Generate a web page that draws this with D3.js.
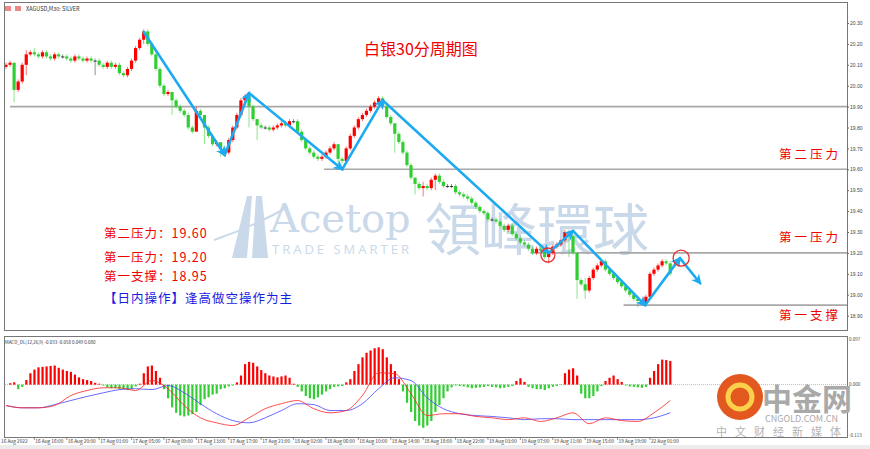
<!DOCTYPE html>
<html><head><meta charset="utf-8">
<script src="https://cdn.jsdelivr.net/npm/d3@7"></script>
<style>body{margin:0;background:#fff}svg{display:block;font-family:"Noto Sans CJK SC","DejaVu Sans",sans-serif}</style>
</head><body><div id="viz"></div>
<script>
(function silverChart() {
  const W = 870, H = 449;

  // closes per 30-min bar (open = previous close)
  const closes = [
    20.10, 20.11, 19.98, 20.02, 20.10, 20.15, 20.16, 20.15, 20.14, 20.16,
    20.14, 20.13, 20.15, 20.14, 20.14, 20.13, 20.12, 20.14, 20.13, 20.12,
    20.13, 20.12, 20.12, 20.10, 20.09, 20.11, 20.09, 20.10, 20.06, 20.05,
    20.08, 20.12, 20.18, 20.22, 20.26, 20.20, 20.15, 20.08, 20.00, 19.96,
    19.97, 19.93, 19.90, 19.88, 19.86, 19.80, 19.78, 19.88, 19.86, 19.80,
    19.76, 19.72, 19.73, 19.70, 19.68, 19.74, 19.80, 19.86, 19.93, 19.95,
    19.90, 19.84, 19.81, 19.80, 19.80, 19.79, 19.80, 19.81, 19.82, 19.81,
    19.83, 19.83, 19.78, 19.74, 19.70, 19.68, 19.66, 19.65, 19.66, 19.68,
    19.70, 19.72, 19.65, 19.64, 19.70, 19.76, 19.80, 19.84, 19.86, 19.88,
    19.90, 19.92, 19.94, 19.90, 19.85, 19.82, 19.77, 19.73, 19.68, 19.62,
    19.56, 19.53, 19.51, 19.52, 19.51, 19.55, 19.57, 19.54, 19.52, 19.52,
    19.52, 19.49, 19.48, 19.47, 19.46, 19.44, 19.42, 19.40, 19.39, 19.36,
    19.36, 19.35, 19.33, 19.31, 19.33, 19.29, 19.27, 19.25, 19.24, 19.22,
    19.20, 19.22, 19.21, 19.18, 19.20, 19.23, 19.24, 19.26, 19.30, 19.28,
    19.20, 19.07, 19.05, 19.02, 19.08, 19.12, 19.14, 19.16, 19.12, 19.10,
    19.08, 19.06, 19.04, 19.02, 19.00, 18.98, 18.97, 18.96, 18.99, 19.10,
    19.12, 19.14, 19.16, 19.15, 19.10
  ];
  const firstOpen = 20.09;
  // notable long wicks: [bar, high, low]
  const wicks = [
    [2, 20.11, 19.92], [5, 20.17, 20.05], [7, 20.18, 20.14], [22, 20.13, 20.05],
    [34, 20.27, 20.20], [41, 19.96, 19.86], [47, 19.90, 19.78], [49, 19.86, 19.72],
    [53, 19.72, 19.66], [60, 19.93, 19.80], [62, 19.84, 19.74], [82, 19.72, 19.61],
    [96, 19.82, 19.68], [101, 19.56, 19.48], [103, 19.54, 19.47], [106, 19.58, 19.50],
    [134, 19.21, 19.15], [139, 19.31, 19.18], [141, 19.20, 18.98], [143, 19.08, 18.98],
    [156, 18.99, 18.94], [158, 19.00, 18.95]
  ];
  const hist = [
    0, 0.003, 0.005, -0.01, -0.005,
    0.01, 0.025, 0.033, 0.038, 0.039, 0.04, 0.041, 0.042, 0.037, 0.033, 0.03, 0.028, 0.022, 0.016, 0.012, 0.01,
    0.008, 0.004, 0.002,
    -0.002, -0.006, -0.008, -0.008, -0.01, -0.01, -0.012, -0.01, -0.004, 0.002,
    0.025, 0.04, 0.042, 0.03, 0.015,
    -0.01, -0.03, -0.05, -0.062, -0.068, -0.07, -0.068, -0.065, -0.06, -0.045, -0.032, -0.028, -0.022, -0.02, -0.01, -0.008, -0.004,
    -0.002, 0.005,
    0.02, 0.045, 0.05, 0.048, 0.04, 0.032,
    0.025, 0.02, 0.018, 0.016, 0.018, 0.02, 0.015,
    0.002, -0.005,
    -0.015, -0.025, -0.03, -0.032, -0.028, -0.022, -0.015, -0.01, -0.005, -0.004, -0.003,
    0.005, 0.012, 0.03, 0.045, 0.06, 0.07, 0.075, 0.08, 0.082, 0.078, 0.06, 0.045, 0.03, 0.012,
    -0.015, -0.04, -0.06, -0.08, -0.09, -0.095, -0.09, -0.08, -0.06, -0.045, -0.03, -0.015, -0.006,
    -0.002, -0.003, -0.004, -0.006, -0.008, -0.007, -0.006, -0.005, -0.003,
    -0.005, -0.006, -0.008, -0.007, -0.005, -0.003,
    0.008, 0.014, 0.006,
    -0.005, -0.008, -0.01, -0.01, -0.012, -0.008, -0.005, -0.003, -0.001,
    0.025, 0.033, 0.036, 0.02,
    -0.02, -0.03, -0.03, -0.025, -0.015, -0.003,
    0.008, 0.015, 0.02, 0.012, 0.006,
    -0.002, -0.004, -0.005, -0.006, -0.007, -0.005,
    0.015, 0.03, 0.045, 0.055, 0.054, 0.052
  ];
  // MACD lines sampled every 4 bars
  const lineStep = 4;
  const redLine = [
    -0.046, -0.051, -0.051, -0.046, -0.024, -0.013, -0.007, -0.007, -0.013, 0.009,
    -0.009, -0.046, -0.073, -0.084, -0.090, -0.073, -0.053, -0.042, -0.035, -0.053,
    -0.062, -0.057, -0.024, 0.026, 0.024, -0.020, -0.068, -0.064, -0.064, -0.070,
    -0.073, -0.077, -0.073, -0.081, -0.073, -0.062, -0.086, -0.073, -0.079, -0.081,
    -0.062, -0.035
  ];
  const blueLine = [
    -0.046, -0.051, -0.051, -0.044, -0.035, -0.026, -0.018, -0.011, -0.009, -0.011,
    -0.002, -0.018, -0.042, -0.064, -0.079, -0.084, -0.073, -0.057, -0.042, -0.044,
    -0.057, -0.057, -0.042, -0.009, 0.015, 0.009, -0.029, -0.053, -0.064, -0.068,
    -0.070, -0.073, -0.077, -0.075, -0.075, -0.077, -0.077, -0.077, -0.077, -0.077,
    -0.073, -0.062
  ];
  const timeLabels = [
    '16 Aug 16:00', '16 Aug 20:00', '17 Aug 01:00', '17 Aug 05:00', '17 Aug 09:00',
    '17 Aug 13:00', '17 Aug 17:00', '17 Aug 21:00', '18 Aug 02:00', '18 Aug 06:00',
    '18 Aug 10:00', '18 Aug 14:00', '18 Aug 18:00', '18 Aug 22:00', '19 Aug 03:00',
    '19 Aug 07:00', '19 Aug 11:00', '19 Aug 15:00', '19 Aug 19:00', '22 Aug 01:00'
  ];
  const priceTicks = [20.30, 20.20, 20.10, 20.00, 19.90, 19.80, 19.70, 19.60, 19.50, 19.40, 19.30, 19.20, 19.10, 19.00, 18.90];
  const levels = [
    { price: 19.90, from: 1 }, { price: 19.60, from: 78.5 },
    { price: 19.20, from: 129.5 }, { price: 18.95, from: 152.5 }
  ];
  const levelNames = [
    { text: '第二压力', price: 19.65 }, { text: '第一压力', price: 19.25 }, { text: '第一支撑', price: 18.88 }
  ];
  const notes = ['第二压力：19.60', '第一压力：19.20', '第一支撑：18.95'];
  const advice = '【日内操作】逢高做空操作为主';
  // trend path vertices [bar, price]
  const trend = [
    [34, 20.257], [54, 19.668], [60, 19.965], [83, 19.60], [93, 19.93],
    [134, 19.20], [140, 19.305], [157.8, 18.95], [166.4, 19.175], [171.4, 19.055]
  ];
  const circles = [[133.8, 19.19, 7], [166.7, 19.175, 8]];

  const up = '#ff0000', down = '#32cd32', grid = '#a8a8a8', blue = '#1eaaf1';

  const x = d3.scaleLinear().domain([0, 1]).range([6, 10.05]);
  const y = d3.scaleLinear().domain([18.90, 20.30]).range([315.6, 23]);
  const ym = d3.scaleLinear().domain([-0.113, 0.097]).range([436, 340.5]);

  const svg = d3.select('#viz').append('svg').attr('width', W).attr('height', H);
  svg.append('rect').attr('width', W).attr('height', H).attr('fill', '#fff');
  svg.append('rect').attr('x', 0).attr('y', 445).attr('width', W).attr('height', 4).attr('fill', '#ececec');

  // watermark
  const wm = svg.append('g').attr('fill', '#c9d9e9');
  wm.append('path').attr('d', 'M232,258 L247,196 L252,196 L247,258 Z M252,258 L256,196 L262,196 L268,258 Z M238,258 L249,200 L242,258 Z');
  wm.append('path').attr('d', 'M214,240 Q250,228 288,207').attr('stroke', '#c9d9e9').attr('stroke-width', 2).attr('fill', 'none');
  wm.append('text').attr('x', 270).attr('y', 232).style('font-family', '"DejaVu Serif", "Liberation Serif", serif').attr('font-size', 40).text('Acetop');
  wm.append('text').attr('x', 272).attr('y', 254).style('font-family', '"Open Sans", sans-serif').attr('font-size', 13).attr('letter-spacing', 3).text('TRADE SMARTER');
  wm.append('text').attr('x', 425).attr('y', 250).attr('font-size', 56).text('領峰環球');

  // levels
  svg.selectAll('line.level').data(levels).enter().append('line')
    .attr('x1', d => x(d.from)).attr('x2', 847)
    .attr('y1', d => y(d.price)).attr('y2', d => y(d.price))
    .attr('stroke', grid).attr('stroke-width', 1.6);

  // candles
  const bars = closes.map((c, i) => {
    const o = i === 0 ? firstOpen : closes[i - 1];
    const w = wicks.find(k => k[0] === i);
    const hi = w ? w[1] : Math.max(o, c) + 0.01;
    const lo = w ? w[2] : Math.min(o, c) - 0.01;
    return { i, o, c, hi, lo };
  });
  const col = d => (d.c > d.o ? up : d.c < d.o ? down : '#333');
  const cg = svg.append('g');
  cg.selectAll('line').data(bars).enter().append('line')
    .attr('x1', d => x(d.i)).attr('x2', d => x(d.i))
    .attr('y1', d => y(d.hi)).attr('y2', d => y(d.lo))
    .attr('stroke', col).attr('stroke-opacity', 0.55);
  cg.selectAll('rect').data(bars).enter().append('rect')
    .attr('x', d => x(d.i) - 1.6).attr('width', 3.2)
    .attr('y', d => y(Math.max(d.o, d.c)))
    .attr('height', d => Math.max(1, Math.abs(y(d.o) - y(d.c))))
    .attr('fill', col);

  // trend path with arrows
  svg.append('defs').append('marker').attr('id', 'ar').attr('viewBox', '0 0 10 10')
    .attr('refX', 8).attr('refY', 5).attr('markerWidth', 4).attr('markerHeight', 4)
    .attr('orient', 'auto').append('path').attr('d', 'M0,0 L10,5 L0,10 L3,5 Z').attr('fill', blue);
  const tg = svg.append('g');
  for (let k = 1; k < trend.length; k++) {
    tg.append('line')
      .attr('x1', x(trend[k - 1][0])).attr('y1', y(trend[k - 1][1]))
      .attr('x2', x(trend[k][0])).attr('y2', y(trend[k][1]))
      .attr('stroke', blue).attr('stroke-width', 2.6).attr('stroke-linecap', 'round')
      .attr('marker-end', 'url(#ar)');
  }
  svg.selectAll('circle.mark').data(circles).enter().append('circle')
    .attr('cx', d => x(d[0])).attr('cy', d => y(d[1])).attr('r', d => d[2])
    .attr('fill', 'none').attr('stroke', '#e83030').attr('stroke-width', 1.3);

  // texts
  svg.append('text').attr('x', 364).attr('y', 55).attr('fill', '#e00').attr('font-size', 16).text('白银30分周期图');
  svg.selectAll('text.lvl').data(levelNames).enter().append('text')
    .attr('x', 779).attr('y', d => y(d.price)).attr('fill', '#e00').attr('font-size', 12.5)
    .attr('letter-spacing', 3).text(d => d.text);
  svg.selectAll('text.note').data(notes).enter().append('text')
    .attr('x', 104).attr('y', (d, i) => [238, 262, 281][i]).attr('fill', '#e00').attr('font-size', 12.5)
    .attr('letter-spacing', 1).text(d => d);
  svg.append('text').attr('x', 104).attr('y', 303).attr('fill', '#1a1ae0').attr('font-size', 12.5)
    .attr('letter-spacing', 1).text(advice);
  svg.append('text').attr('x', 26).attr('y', 11).attr('font-size', 5.5).attr('fill', '#333').text('XAGUSD,M30:  SILVER');
  svg.append('rect').attr('x', 5).attr('y', 6).attr('width', 6).attr('height', 5).attr('fill', '#e88');
  svg.append('rect').attr('x', 15).attr('y', 6).attr('width', 6).attr('height', 5).attr('fill', '#e88');

  // panes
  svg.append('rect').attr('x', 4.5).attr('y', 2.5).attr('width', 843).attr('height', 328)
    .attr('fill', 'none').attr('stroke', '#777');
  svg.append('rect').attr('x', 4.5).attr('y', 336.5).attr('width', 843).attr('height', 101)
    .attr('fill', 'none').attr('stroke', '#777');

  // price axis
  const pa = svg.append('g').attr('transform', 'translate(847,0)')
    .call(d3.axisRight(y).tickValues(priceTicks).tickFormat(d3.format('.2f')).tickSize(2));
  pa.select('.domain').remove();
  pa.selectAll('text').attr('font-size', 5).attr('fill', '#444').attr('x', 3);
  pa.selectAll('line').attr('stroke', '#666');

  // MACD
  svg.append('line').attr('x1', 5).attr('x2', 847).attr('y1', ym(0)).attr('y2', ym(0))
    .attr('stroke', '#bbb').attr('stroke-dasharray', '1,1');
  svg.append('g').selectAll('rect').data(hist).enter().append('rect')
    .attr('x', (d, i) => x(i) - 1).attr('width', 2.2)
    .attr('y', d => ym(Math.max(0, d))).attr('height', d => Math.abs(ym(0) - ym(d)))
    .attr('fill', d => (d >= 0 ? up : down));
  const ml = d3.line().x((d, i) => x(i * lineStep)).y(d => ym(d)).curve(d3.curveMonotoneX);
  svg.append('path').datum(blueLine).attr('d', ml).attr('fill', 'none').attr('stroke', '#4444ff').attr('stroke-width', 0.8);
  svg.append('path').datum(redLine).attr('d', ml).attr('fill', 'none').attr('stroke', '#ff2222').attr('stroke-width', 0.8);
  svg.append('text').attr('x', 5).attr('y', 344).attr('font-size', 4.5).attr('fill', '#333')
    .text('MACD_DL(12,26,9) -0.033 -0.058 0.049 0.080');
  [['0.097', 341], ['0.000', 386], ['-0.113', 437]].forEach(t => {
    svg.append('text').attr('x', 849).attr('y', t[1]).attr('font-size', 4.5).attr('fill', '#444').text(t[0]);
  });

  // time axis
  const tx = d3.scaleLinear().domain([0, timeLabels.length - 1]).range([x(7), x(7 + 8 * (timeLabels.length - 1))]);
  svg.append('text').attr('x', 1).attr('y', 443).attr('font-size', 4.8).attr('fill', '#333').text('16 Aug 2022');
  const ta = svg.append('g');
  timeLabels.forEach((t, i) => {
    ta.append('line').attr('x1', tx(i)).attr('x2', tx(i)).attr('y1', 437).attr('y2', 440).attr('stroke', '#555').attr('stroke-width', 0.6);
    ta.append('text').attr('x', tx(i) + 1).attr('y', 443).attr('font-size', 4.8).attr('fill', '#333').text(t);
  });

  // cngold logo
  const lg = svg.append('g');
  lg.append('circle').attr('cx', 740).attr('cy', 397).attr('r', 23).attr('fill', '#e2581f');
  lg.append('circle').attr('cx', 740).attr('cy', 397).attr('r', 12).attr('fill', 'none').attr('stroke', '#fbd04a').attr('stroke-width', 5);
  lg.append('text').attr('x', 762).attr('y', 410).attr('font-size', 30).attr('font-weight', 'bold').attr('fill', '#a9a9a9').text('中金网');
  lg.append('text').attr('x', 765).attr('y', 422).attr('font-size', 9).attr('fill', '#a9a9a9').text('CNGOLD.COM.CN');
  lg.append('text').attr('x', 716).attr('y', 436).attr('font-size', 11).attr('fill', '#b5b5b5').attr('letter-spacing', 8).text('中文财经新媒体');
}());
</script>
</body></html>
